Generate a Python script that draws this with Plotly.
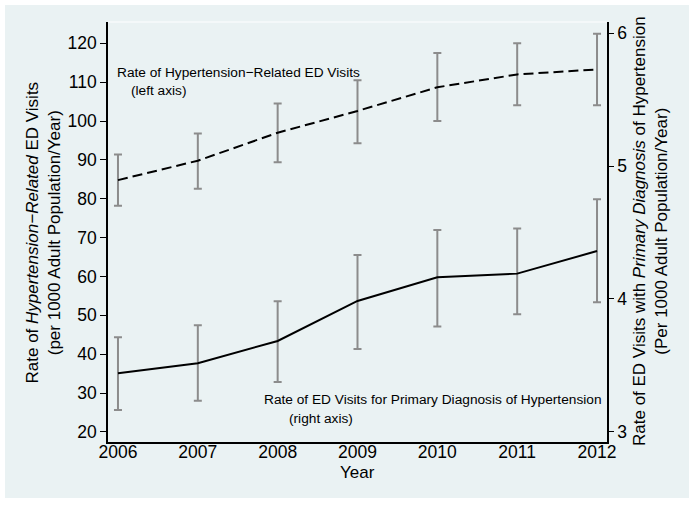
import plotly.graph_objects as go

years = [2006, 2007, 2008, 2009, 2010, 2011, 2012]

# Hypertension-related ED visits (left axis), per 1000 adults/year
related_rate = [84.8, 89.8, 97.0, 102.6, 108.7, 112.0, 113.3]
related_upper = [91.4, 96.8, 104.5, 110.5, 117.5, 120.0, 122.5]
related_lower = [78.2, 82.6, 89.4, 94.3, 100.0, 104.1, 104.1]

# ED visits with primary diagnosis of hypertension (right axis)
primary_rate = [3.44, 3.515, 3.683, 3.984, 4.163, 4.19, 4.36]
primary_upper = [3.711, 3.801, 3.982, 4.331, 4.519, 4.529, 4.75]
primary_lower = [3.163, 3.233, 3.374, 3.623, 3.791, 3.884, 3.974]

left_ticks = [20, 30, 40, 50, 60, 70, 80, 90, 100, 110, 120]
right_ticks = [3, 4, 5, 6]

BG = "#EAF2F3"
ERR = "#8C8C8C"
FONT = "Liberation Sans, Arial, sans-serif"
FS = 17.5
TFS = 17

def err(vals, up, lo):
    return dict(type="data", symmetric=False,
                array=[u - v for u, v in zip(up, vals)],
                arrayminus=[v - l for v, l in zip(vals, lo)],
                color=ERR, thickness=2, width=4)

fig = go.Figure()
fig.add_trace(go.Scatter(x=years, y=related_rate, mode="markers",
                         marker=dict(size=1, opacity=0),
                         error_y=err(related_rate, related_upper, related_lower),
                         yaxis="y", showlegend=False, hoverinfo="skip"))
fig.add_trace(go.Scatter(x=years, y=primary_rate, mode="markers",
                         marker=dict(size=1, opacity=0),
                         error_y=err(primary_rate, primary_upper, primary_lower),
                         yaxis="y2", showlegend=False, hoverinfo="skip"))
fig.add_trace(go.Scatter(x=years, y=related_rate, mode="lines",
                         line=dict(color="black", width=2, dash="10px,5px"),
                         yaxis="y", showlegend=False))
fig.add_trace(go.Scatter(x=years, y=primary_rate, mode="lines",
                         line=dict(color="black", width=2),
                         yaxis="y2", showlegend=False))

W, H = 695, 508
L, R, T, B = 108, 88, 22, 66
pw, ph = W - L - R, H - T - B

def px(x):
    return (x - L) / pw

def py(y):
    return (H - B - y) / ph

fig.update_layout(
    width=W, height=H,
    margin=dict(l=L, r=R, t=T, b=B, pad=0),
    paper_bgcolor="white", plot_bgcolor=BG,
    font=dict(family=FONT, size=FS, color="black"),
    xaxis=dict(range=[2005.875, 2012.125], tickvals=years,
               ticktext=[str(y) for y in years],
               showgrid=False, zeroline=False, showline=True,
               linecolor="black", linewidth=1.5, ticks="", ticklen=0,
               ticklabelstandoff=-7, tickfont=dict(size=FS)),
    yaxis=dict(range=[17.4, 125.5], tickvals=left_ticks,
               showgrid=False, zeroline=False, showline=True,
               linecolor="black", linewidth=1.5, ticks="outside", ticklen=6,
               tickcolor="black", tickfont=dict(size=FS)),
    yaxis2=dict(range=[2.922, 6.085], tickvals=right_ticks, overlaying="y",
                side="right", showgrid=False, zeroline=False, showline=True,
                linecolor="black", linewidth=1.5, ticks="outside", ticklen=5,
                tickcolor="black", tickfont=dict(size=FS)),
)

fig.add_shape(type="rect", xref="paper", yref="paper",
              x0=px(5), x1=px(689), y0=py(498), y1=py(5),
              fillcolor=BG, line=dict(width=0), layer="below")
fig.add_shape(type="line", xref="paper", yref="paper",
              x0=0, x1=1, y0=1, y1=1,
              line=dict(color="#F7FAFB", width=1.5), layer="below")

annots = [
    dict(text="Rate of <i>Hypertension\u2212Related</i> ED Visits<br>(per 1000 Adult Population/Year)",
         x=px(42.5), y=py(233), textangle=-90),
    dict(text="Rate of ED Visits with <i>Primary Diagnosis</i> of Hypertension<br>(Per 1000 Adult Population/Year)",
         x=px(650), y=py(231), textangle=-90),
    dict(text="Year", x=px(357), y=py(472)),
]
for a in annots:
    fig.add_annotation(xref="paper", yref="paper", showarrow=False,
                       xanchor="center", yanchor="middle",
                       font=dict(size=TFS, family=FONT), **a)

labels = [
    ("Rate of Hypertension\u2212Related ED Visits", 115, 72),
    ("(left axis)", 129, 91),
    ("Rate of ED Visits for Primary Diagnosis of Hypertension", 262, 399),
    ("(right axis)", 287, 418),
]
for t, x, y in labels:
    fig.add_annotation(xref="paper", yref="paper", showarrow=False,
                       xanchor="left", yanchor="middle", text=t,
                       x=px(x), y=py(y), font=dict(size=13.7, family=FONT))

fig.write_html(
    "out.html",
    config={"displayModeBar": False},
    post_script="document.body.style.margin='0px';"
                "document.documentElement.style.overflow='hidden';"
                "document.body.style.overflow='hidden';",
)
